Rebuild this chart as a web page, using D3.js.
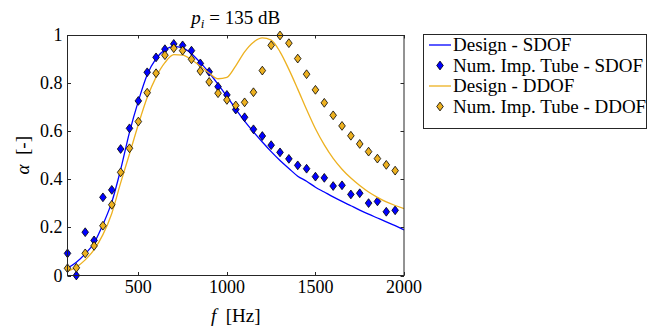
<!DOCTYPE html>
<html><head><meta charset="utf-8">
<script src="https://cdn.jsdelivr.net/npm/d3@7/dist/d3.min.js"></script>
<style>
html,body{margin:0;padding:0;background:#fff;}
</style></head>
<body><svg id="c" width="649" height="328" font-family="'Liberation Serif', 'DejaVu Serif', serif"></svg>
<script>
const designFreq = [100,150,200,250,300,350,400,450,500,550,600,650,700,750,800,850,900,950,1000,1050,1100,1150,1200,1250,1300,1350,1400,1450,1500,1550,1600,1650,1700,1750,1800,1850,1900,1950,2000];
const designSDOF = [0.030,0.055,0.090,0.135,0.212,0.305,0.440,0.595,0.725,0.835,0.902,0.938,0.952,0.946,0.922,0.885,0.843,0.795,0.745,0.692,0.642,0.597,0.555,0.515,0.478,0.445,0.413,0.392,0.367,0.347,0.327,0.308,0.290,0.272,0.255,0.239,0.223,0.207,0.190];
const designDDOF = [0.018,0.035,0.065,0.108,0.170,0.258,0.385,0.505,0.628,0.740,0.825,0.885,0.918,0.916,0.897,0.870,0.842,0.818,0.824,0.872,0.930,0.970,0.988,0.979,0.930,0.857,0.775,0.690,0.610,0.543,0.487,0.442,0.405,0.374,0.347,0.325,0.306,0.291,0.278];
const tubeFreq = [100,150,200,250,300,350,400,450,500,550,600,650,700,750,800,850,900,950,1000,1050,1100,1150,1200,1250,1300,1350,1400,1450,1500,1550,1600,1650,1700,1750,1800,1850,1900,1950];
const tubeSDOF = [0.092,0.000,0.180,0.146,0.325,0.356,0.526,0.612,0.726,0.845,0.907,0.941,0.963,0.957,0.935,0.882,0.847,0.785,0.751,0.690,0.658,0.608,0.580,0.542,0.512,0.485,0.458,0.444,0.411,0.406,0.372,0.375,0.337,0.342,0.301,0.308,0.265,0.271];
const tubeDDOF = [0.030,0.032,0.092,0.123,0.207,0.294,0.429,0.529,0.640,0.760,0.841,0.916,0.945,0.935,0.899,0.850,0.805,0.758,0.730,0.707,0.720,0.762,0.852,0.957,0.998,0.966,0.902,0.837,0.772,0.718,0.666,0.622,0.581,0.547,0.515,0.486,0.460,0.436];
const xTicks = [500,1000,1500,2000];
const yTicks = [0,0.2,0.4,0.6,0.8,1];
const legendLabels = ["Design - SDOF","Num. Imp. Tube - SDOF","Design - DDOF","Num. Imp. Tube - DDOF"];

const FONT = "'Liberation Serif', 'DejaVu Serif', serif";
const BLUE = "#0000ff", ORANGE = "#EDB120", AX = "#262626";
const svg = d3.select("#c");
const L = 67.5, R = 404, T = 35, B = 275.5;
const x = d3.scaleLinear().domain([100,2000]).range([L,R]);
const y = d3.scaleLinear().domain([0,1]).range([B,T]);
const FS = 18;
const txt = (sel) => sel.append("text").attr("font-family",FONT).attr("fill","#000");

const tl = 3.5;
const g = svg.append("g");
xTicks.forEach(v => {
  const px = Math.round(x(v))+0.5;
  g.append("line").attr("x1",px).attr("x2",px).attr("y1",B).attr("y2",B-tl).attr("stroke",AX);
  g.append("line").attr("x1",px).attr("x2",px).attr("y1",T).attr("y2",T+tl).attr("stroke",AX);
  txt(svg).attr("x",x(v)).attr("y",293).attr("text-anchor","middle").attr("font-size",FS).text(d3.format("d")(v));
});
yTicks.forEach(v => {
  const py = Math.round(y(v))+0.5;
  g.append("line").attr("x1",L).attr("x2",L+tl).attr("y1",py).attr("y2",py).attr("stroke",AX);
  g.append("line").attr("x1",R).attr("x2",R-tl).attr("y1",py).attr("y2",py).attr("stroke",AX);
  txt(svg).attr("x",62.5).attr("y",y(v)+6).attr("text-anchor","end").attr("font-size",FS).text(v===0||v===1?String(v):d3.format(".1f")(v));
});

const plot = svg.append("g");
const line = d3.line().x((d,i)=>x(designFreq[i])).y(d=>y(d)).curve(d3.curveMonotoneX);
const diamond = "M0,-4.4L3.3,0L0,4.4L-3.3,0Z";

function markers(vals, fill){
  plot.append("g").selectAll("path").data(vals).join("path")
    .attr("d",diamond)
    .attr("transform",(d,i)=>`translate(${x(tubeFreq[i])},${y(d)})`)
    .attr("fill",fill).attr("stroke","#000").attr("stroke-width",0.8);
}
plot.append("path").attr("d",line(designSDOF)).attr("fill","none").attr("stroke",BLUE).attr("stroke-width",1.3);
markers(tubeSDOF, BLUE);
plot.append("path").attr("d",line(designDDOF)).attr("fill","none").attr("stroke",ORANGE).attr("stroke-width",1.3);
markers(tubeDDOF, ORANGE);

svg.append("rect").attr("x",L).attr("y",T+0.5).attr("width",R-L).attr("height",B-T-0.5)
  .attr("fill","none").attr("stroke",AX).attr("stroke-width",1);

const tt = txt(svg).attr("x",(L+R)/2).attr("y",24).attr("text-anchor","middle").attr("font-size",19);
tt.append("tspan").attr("font-style","italic").text("p");
tt.append("tspan").attr("font-style","italic").attr("font-size",13).attr("dy",4).text("i");
tt.append("tspan").attr("dy",-4).text(" = 135 dB");

const xl = txt(svg).attr("x",(L+R)/2).attr("y",322).attr("text-anchor","middle").attr("font-size",19);
xl.append("tspan").attr("font-style","italic").text("f");
xl.append("tspan").text("\u2002[Hz]");

const yl = txt(svg).attr("transform",`translate(29,${(T+B)/2}) rotate(-90)`).attr("text-anchor","middle").attr("font-size",19);
yl.append("tspan").attr("font-style","italic").text("α");
yl.append("tspan").text("\u2002[-]");

const lg = svg.append("g");
lg.append("rect").attr("x",423.5).attr("y",34.5).attr("width",223).attr("height",94).attr("fill","#fff").attr("stroke",AX).attr("stroke-width",1);
const rowY = [45,65.5,86,106.5];
const kinds = [["line",BLUE],["marker",BLUE],["line",ORANGE],["marker",ORANGE]];
kinds.forEach((k,i)=>{
  if(k[0]==="line"){
    lg.append("line").attr("x1",429).attr("x2",451).attr("y1",rowY[i]).attr("y2",rowY[i]).attr("stroke",k[1]).attr("stroke-width",1.3);
  } else {
    lg.append("path").attr("d",diamond).attr("transform",`translate(440,${rowY[i]})`).attr("fill",k[1]).attr("stroke","#000").attr("stroke-width",0.8);
  }
  txt(lg).attr("x",453).attr("y",rowY[i]+6).attr("font-size",19).text(legendLabels[i]);
});
</script></body></html>
